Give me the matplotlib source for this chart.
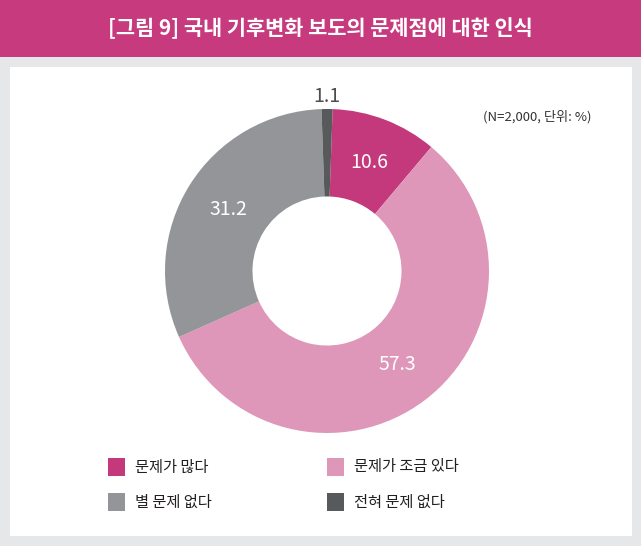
import matplotlib
matplotlib.use("Agg")
import matplotlib.pyplot as plt
from matplotlib.patches import Rectangle
import numpy as np

plt.rcParams['font.family'] = ['Noto Sans CJK KR', 'DejaVu Sans']

title = "[그림 9] 국내 기후변화 보도의 문제점에 대한 인식"
note = "(N=2,000, 단위: %)"
categories = ["문제가 많다", "문제가 조금 있다", "별 문제 없다", "전혀 문제 없다"]
values = [10.6, 57.3, 31.2, 1.1]
colors = ["#C4397C", "#DE97B9", "#939598", "#58595B"]

W, H = 641, 546
fig = plt.figure(figsize=(W / 100, H / 100), dpi=100)
fig.patch.set_facecolor("#E6E7E8")

# title bar and white panel (pixel -> figure fraction)
fig.patches.append(Rectangle((0, 1 - 57 / H), 1, 57 / H, transform=fig.transFigure,
                             facecolor="#C73B7E", edgecolor="none", zorder=-2))
fig.patches.append(Rectangle((10 / W, 1 - 536 / H), 622 / W, 469 / H, transform=fig.transFigure,
                             facecolor="white", edgecolor="none", zorder=-2))
fig.text(320 / W, 1 - 28 / H, title, color="white", fontsize=15, fontweight="bold",
         ha="center", va="center")

# donut
cx, cy, r = 327, 271, 162
ax = fig.add_axes([(cx - r) / W, 1 - (cy + r) / H, 2 * r / W, 2 * r / H])
ax.set_zorder(3)
wedges, _ = ax.pie(values, colors=colors, startangle=88, counterclock=False,
                   wedgeprops=dict(width=0.54, edgecolor="none"))
ax.set_xlim(-1, 1)
ax.set_ylim(-1, 1)
ax.set_aspect("equal")
ax.axis("off")

for w, v in zip(wedges, values):
    ang = np.deg2rad((w.theta1 + w.theta2) / 2)
    if v < 5:
        d, col = 1.08, "#4D4D4F"
    else:
        d, col = 0.72, "white"
    ax.text(d * np.cos(ang), d * np.sin(ang), f"{v}", color=col, fontsize=14,
            ha="center", va="center", clip_on=False)

fig.text(537 / W, 1 - 117 / H, note, color="#333333", fontsize=9.5, ha="center", va="center")

# legend
col_x = [108, 327]
row_y = [467, 502]
for i, (lab, c) in enumerate(zip(categories, colors)):
    x = col_x[i % 2]
    y = row_y[i // 2]
    fig.patches.append(Rectangle((x / W, 1 - (y + 9) / H), 17 / W, 18 / H,
                                 transform=fig.transFigure, facecolor=c, edgecolor="none"))
    fig.text((x + 27) / W, 1 - y / H, lab, color="#231F20", fontsize=11, ha="left", va="center")

fig.savefig("out.png", dpi=100, facecolor=fig.get_facecolor())
